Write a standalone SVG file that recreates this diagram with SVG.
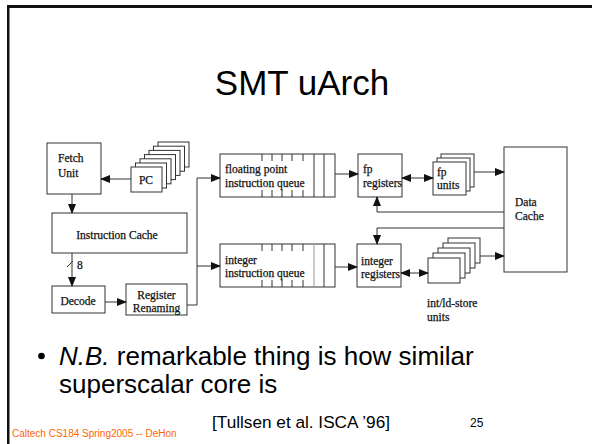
<svg xmlns="http://www.w3.org/2000/svg" width="592" height="444" viewBox="0 0 592 444">
  <defs>
    <marker id="arrow" markerUnits="userSpaceOnUse" markerWidth="10" markerHeight="8" refX="9" refY="4" orient="auto-start-reverse">
      <path d="M0,0 L10,4 L0,8 z" fill="#111"/>
    </marker>
    <style>
      .box { fill: #fff; stroke: #333; stroke-width: 1; }
      .card { fill: #fff; stroke: #333; stroke-width: 1; }
      .lbl { font-family: "Liberation Serif", "Times New Roman", serif; font-size: 11.5px; fill: #111; stroke: #111; stroke-width: 0.25; }
      .mid { text-anchor: middle; }
      .wire { fill: none; stroke: #333; stroke-width: 1; }
      .arr { fill: none; stroke: #333; stroke-width: 1; marker-end: url(#arrow); }
      .bi { fill: none; stroke: #333; stroke-width: 1; marker-start: url(#arrow); marker-end: url(#arrow); }
      .tick { stroke: #333; stroke-width: 1; }
      .sans { font-family: "Liberation Sans", Arial, sans-serif; fill: #000; }
    </style>
  </defs>

  <rect width="592" height="444" fill="#fff"/>

  <!-- slide frame -->
  <g id="frame" fill="#111">
    <rect x="7" y="5" width="585" height="3"/>
    <rect x="7" y="5" width="2.5" height="439"/>
  </g>

  <text id="title" class="sans" x="302" y="95" font-size="35" text-anchor="middle">SMT uArch</text>

  <!-- nodes -->
  <g id="fetch">
    <rect class="box" x="47" y="143" width="54" height="51"/>
    <text class="lbl" x="58" y="162">Fetch</text>
    <text class="lbl" x="58" y="177">Unit</text>
  </g>

  <g id="pc">
    <rect class="card" x="158" y="142" width="31" height="25"/>
    <rect class="card" x="153.5" y="146.2" width="31" height="25"/>
    <rect class="card" x="149" y="150.4" width="31" height="25"/>
    <rect class="card" x="144.5" y="154.6" width="31" height="25"/>
    <rect class="card" x="140" y="158.8" width="31" height="25"/>
    <rect class="card" x="135.5" y="163" width="31" height="25"/>
    <rect class="card" x="131" y="167" width="31" height="25"/>
    <text class="lbl mid" x="146" y="184" font-size="12">PC</text>
  </g>

  <g id="icache">
    <rect class="box" x="52" y="213" width="135" height="40"/>
    <text class="lbl mid" x="117" y="239">Instruction Cache</text>
  </g>

  <g id="decode">
    <rect class="box" x="52" y="286" width="53" height="27"/>
    <text class="lbl mid" x="78" y="305">Decode</text>
  </g>

  <g id="rename">
    <rect class="box" x="126" y="284" width="61" height="31"/>
    <text class="lbl mid" x="156.5" y="299">Register</text>
    <text class="lbl mid" x="156.5" y="312">Renaming</text>
  </g>

  <g id="fp-queue">
    <rect class="box" x="220" y="154" width="115" height="43"/>
    <path class="tick" d="M262,154v7 M272,154v7 M282,154v7 M292,154v7 M303,154v7 M262,197v-7 M272,197v-7 M282,197v-7 M292,197v-7 M303,197v-7 M314,154v43 M324,154v43"/>
    <text class="lbl" x="225" y="173">floating point</text>
    <text class="lbl" x="225" y="187">instruction queue</text>
  </g>

  <g id="int-queue">
    <rect class="box" x="220" y="244" width="115" height="43"/>
    <path class="tick" d="M262,244v7 M272,244v7 M282,244v7 M292,244v7 M303,244v7 M262,287v-7 M272,287v-7 M282,287v-7 M292,287v-7 M303,287v-7 M324,244v43"/>
    <path d="M314,244v43" stroke="#999" stroke-width="1"/>
    <text class="lbl" x="225" y="264">integer</text>
    <text class="lbl" x="225" y="277">instruction queue</text>
  </g>

  <g id="fp-regs">
    <rect class="box" x="358" y="154" width="44" height="43"/>
    <text class="lbl" x="363" y="173">fp</text>
    <text class="lbl" x="363" y="187">registers</text>
  </g>

  <g id="int-regs">
    <rect class="box" x="357" y="244" width="44" height="43"/>
    <text class="lbl" x="361" y="265">integer</text>
    <text class="lbl" x="361" y="278">registers</text>
  </g>

  <g id="fp-units">
    <rect class="card" x="441" y="154" width="33" height="33"/>
    <rect class="card" x="437" y="158" width="33" height="33"/>
    <rect class="card" x="433" y="162" width="33" height="33"/>
    <text class="lbl" x="437" y="176">fp</text>
    <text class="lbl" x="437" y="189">units</text>
  </g>

  <g id="int-units">
    <rect class="card" x="448" y="238" width="32" height="25"/>
    <rect class="card" x="443" y="243" width="32" height="25"/>
    <rect class="card" x="438" y="248" width="32" height="25"/>
    <rect class="card" x="433" y="253" width="32" height="25"/>
    <rect class="card" x="428" y="258" width="32" height="25"/>
    <text class="lbl" x="427" y="307">int/ld-store</text>
    <text class="lbl" x="427" y="321">units</text>
  </g>

  <g id="dcache">
    <rect class="box" x="504" y="147" width="63" height="125"/>
    <text class="lbl" x="515" y="206">Data</text>
    <text class="lbl" x="515" y="220">Cache</text>
  </g>

  <!-- connectors -->
  <g id="connectors">
    <path class="arr" d="M131,179 H101"/>
    <path class="arr" d="M72,194 V213"/>
    <path class="arr" d="M72,253 V286"/>
    <path class="wire" d="M67,267 L73,261"/>
    <text class="lbl" x="77" y="269">8</text>
    <path class="arr" d="M105,302 H126"/>
    <path class="wire" d="M187,305 H197 V178"/>
    <path class="arr" d="M197,178 H220"/>
    <path class="arr" d="M197,266 H220"/>
    <path class="arr" d="M335,174 H358"/>
    <path class="arr" d="M335,267 H357"/>
    <path class="bi" d="M402,178 H433"/>
    <path class="bi" d="M401,273 H428"/>
    <path class="arr" d="M474,172 H504"/>
    <path class="arr" d="M480,256 H504"/>
    <path class="arr" d="M504,212 H377 V197"/>
    <path class="arr" d="M504,228 H377 V244"/>
  </g>

  <!-- bullet text -->
  <g id="note" class="sans" font-size="26">
    <circle cx="41.5" cy="356" r="3.3" fill="#000"/>
    <text x="59" y="365"><tspan font-style="italic">N.B.</tspan> remarkable thing is how similar</text>
    <text x="59" y="393">superscalar core is</text>
  </g>

  <!-- footer -->
  <g id="footer">
    <text class="sans" x="12" y="437" font-size="10" style="fill:#FF6600">Caltech CS184 Spring2005 -- DeHon</text>
    <text class="sans" x="212" y="428" font-size="17.2">[Tullsen et al. ISCA ’96]</text>
    <text class="sans" x="470" y="427" font-size="12">25</text>
  </g>
</svg>
